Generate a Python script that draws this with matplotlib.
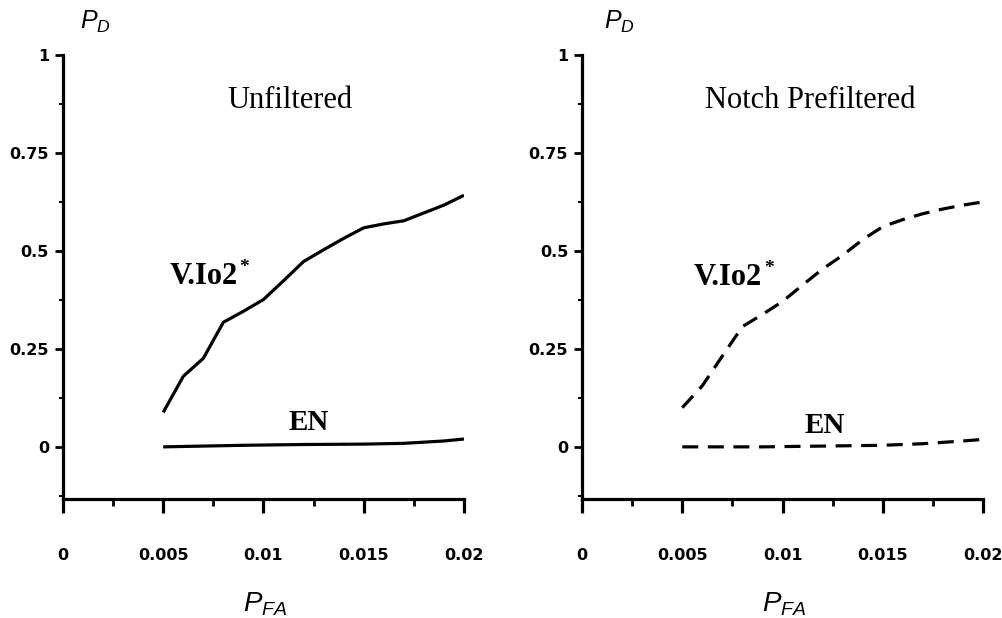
import matplotlib
matplotlib.use("Agg")
import matplotlib.pyplot as plt
from matplotlib.ticker import FixedLocator

# values
PFA = [0.005, 0.006, 0.007, 0.008, 0.009, 0.010, 0.011, 0.012, 0.013,
       0.014, 0.015, 0.016, 0.017, 0.018, 0.019, 0.020]
VIO2_UNFILT = [0.088, 0.18, 0.226, 0.318, 0.346, 0.376, 0.424, 0.473, 0.503,
               0.532, 0.559, 0.569, 0.577, 0.597, 0.617, 0.642]
VIO2_NOTCH = [0.10, 0.156, 0.232, 0.307, 0.338, 0.371, 0.413, 0.454, 0.489,
              0.529, 0.562, 0.580, 0.595, 0.607, 0.617, 0.625]

EN_PFA = [0.005, 0.009, 0.012, 0.015, 0.017, 0.019, 0.020]
EN_UNFILT = [0.0, 0.004, 0.006, 0.007, 0.009, 0.015, 0.020]
EN_NOTCH = [0.0, 0.0, 0.002, 0.004, 0.008, 0.015, 0.019]

X_TICKS = [0, 0.005, 0.01, 0.015, 0.02]
X_LABELS = ["0", "0.005", "0.01", "0.015", "0.02"]
Y_TICKS = [0, 0.25, 0.5, 0.75, 1]
Y_LABELS = ["0", "0.25", "0.5", "0.75", "1"]
Y_MINOR = [-0.125, 0.125, 0.375, 0.625, 0.875]
X_MINOR = [0.0025, 0.0075, 0.0125, 0.0175]

TITLES = ["Unfiltered", "Notch Prefiltered"]

plt.rcParams["mathtext.fontset"] = "custom"
plt.rcParams["mathtext.it"] = "Liberation Sans:italic"
plt.rcParams["mathtext.rm"] = "Liberation Sans"

SERIF = "Liberation Serif"
TICKFONT = {"family": "DejaVu Sans", "weight": "bold", "size": 11.5}

fig = plt.figure(figsize=(10.03, 6.18), dpi=100)
ax_l = fig.add_axes([0.0628, 0.1926, 0.3998, 0.7184])
ax_r = fig.add_axes([0.5803, 0.1926, 0.3998, 0.7184])

panels = [
    (ax_l, VIO2_UNFILT, EN_UNFILT, "-", (0.01132, 0.883), (0.00701, 0.436), (0.01227, 0.061), 0.08),
    (ax_r, VIO2_NOTCH, EN_NOTCH, (0, (5, 3)), (0.01137, 0.883), (0.00728, 0.433), (0.01212, 0.055), 0.092),
]

for i, (ax, vio, en, ls, tpos, vpos, epos, pdx) in enumerate(panels):
    ax.plot(PFA, vio, color="black", lw=2.3, ls=ls, solid_capstyle="butt")
    ax.plot(EN_PFA, en, color="black", lw=2.3, ls=ls, solid_capstyle="butt")

    ax.set_xlim(0, 0.02)
    ax.set_ylim(-0.133, 1.0)
    for s in ("top", "right"):
        ax.spines[s].set_visible(False)
    for s in ("left", "bottom"):
        ax.spines[s].set_linewidth(2.3)

    ax.xaxis.set_major_locator(FixedLocator(X_TICKS))
    ax.xaxis.set_minor_locator(FixedLocator(X_MINOR))
    ax.yaxis.set_major_locator(FixedLocator(Y_TICKS))
    ax.yaxis.set_minor_locator(FixedLocator(Y_MINOR))
    ax.set_xticklabels(X_LABELS, fontdict=TICKFONT)
    ax.set_yticklabels(Y_LABELS, fontdict=TICKFONT)
    ax.tick_params(axis="x", which="major", direction="out", length=10, width=2.3, pad=25)
    ax.tick_params(axis="x", which="minor", direction="out", length=5, width=2)
    ax.tick_params(axis="y", which="major", direction="out", length=6, width=2, pad=4)
    ax.tick_params(axis="y", which="minor", direction="out", length=3, width=1.5)

    ax.text(*tpos, TITLES[i], family=SERIF, fontsize=22, ha="center", va="center")
    t = ax.text(*vpos, "V.Io2", family=SERIF, fontsize=22, fontweight="bold",
                ha="center", va="center")
    ax.annotate("*", xy=(1, 1), xycoords=t, xytext=(1.5, 2), textcoords="offset points",
                family=SERIF, fontsize=14, fontweight="bold", ha="left", va="top")
    ax.text(*epos, "EN", family=SERIF, fontsize=21, fontweight="bold",
            ha="center", va="center")

    ax.text(pdx, 1.045, r"$P_D$", transform=ax.transAxes, fontsize=18,
            ha="center", va="bottom")
    ax.text(0.505, -0.205, r"$P_{FA}$", transform=ax.transAxes, fontsize=20,
            ha="center", va="top")

fig.savefig("out.png", dpi=100)
